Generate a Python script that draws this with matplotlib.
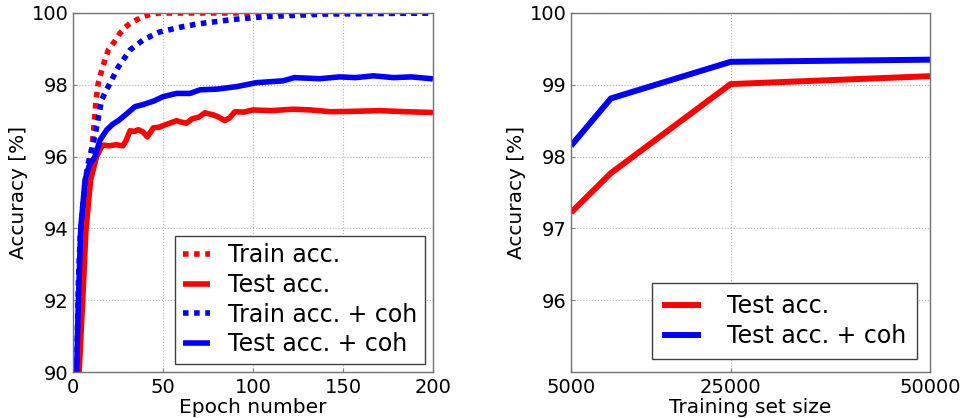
import matplotlib
matplotlib.use("Agg")
import matplotlib.pyplot as plt

# left panel: accuracy vs epoch
train_ep = [2, 3, 5, 7.6, 9.4, 11.3, 12.8, 14, 16.5, 19.6, 23, 26, 29, 31.7, 35, 39, 43, 48, 60, 100, 200]
train_acc = [88.5, 90.0, 92.6, 94.8, 95.7, 96.65, 97.58, 98.04, 98.5, 98.97, 99.2, 99.43, 99.6, 99.71, 99.8,
             99.9, 99.96, 100.0, 100.0, 100.0, 100.0]

test_ep = [2.5, 3.4, 5.4, 7.2, 9.8, 13.1, 15.9, 17, 20, 24, 27.8, 29.5, 31.7, 34, 36.3, 39, 41.3, 44.6, 48,
           52, 57.6, 59.4, 63.1, 66, 70, 73.3, 78, 81, 84.4, 87, 90, 95, 100, 110, 122, 132, 143, 155,
           170.6, 185, 199, 200]
test_acc = [88.5, 90.0, 92.0, 93.96, 95.35, 96.0, 96.28, 96.32, 96.3, 96.33, 96.3, 96.45, 96.72, 96.7,
            96.75, 96.68, 96.55, 96.8, 96.82, 96.9, 97.0, 96.97, 96.93, 97.05, 97.1, 97.22, 97.16, 97.1,
            97.0, 97.08, 97.25, 97.24, 97.3, 97.28, 97.32, 97.3, 97.25, 97.26, 97.28, 97.25, 97.23, 97.22]

train_coh_ep = [1.5, 2, 3, 4, 5.7, 8, 12.5, 15.9, 20.5, 25.2, 31.7, 39, 48, 61, 70, 89, 107, 140, 200]
train_coh_acc = [88.5, 90.0, 92.5, 93.8, 94.79, 95.72, 96.65, 97.58, 98.04, 98.5, 98.97, 99.25, 99.47,
                 99.62, 99.7, 99.82, 99.9, 99.97, 100.0]

test_coh_ep = [1.5, 2, 3, 4.3, 6.7, 9, 12.2, 15, 18.7, 22, 25.2, 30, 34.4, 39, 45, 50, 57.6, 65, 70.6,
               80, 91, 102, 116.7, 123, 137, 148, 157, 166.9, 178, 188, 199, 200]
test_coh_acc = [88.5, 90.0, 92.0, 94.0, 95.35, 95.75, 96.0, 96.46, 96.74, 96.9, 97.0, 97.2, 97.39, 97.45,
                97.55, 97.67, 97.76, 97.76, 97.86, 97.88, 97.95, 98.06, 98.11, 98.2, 98.17, 98.22, 98.2,
                98.25, 98.2, 98.22, 98.17, 98.16]

# right panel: accuracy vs training set size
sizes = [5000, 10000, 25000, 50000]
size_test = [97.22, 97.77, 99.01, 99.12]
size_test_coh = [98.15, 98.81, 99.32, 99.35]

fig = plt.figure(figsize=(9.63, 4.18), dpi=100)
ax1 = fig.add_axes([73 / 963, 1 - 372 / 418, 360 / 963, 359 / 418])
ax2 = fig.add_axes([571 / 963, 1 - 372 / 418, 359 / 963, 359 / 418])

dots = (0, (1, 1))
lw = 4
kw = dict(solid_capstyle='butt')
ax1.plot(train_ep, train_acc, color='r', lw=lw, ls=dots, label='Train acc.')
ax1.plot(test_ep, test_acc, color='r', lw=lw, label='Test acc.', **kw)
ax1.plot(train_coh_ep, train_coh_acc, color='b', lw=lw, ls=dots, label='Train acc. + coh')
ax1.plot(test_coh_ep, test_coh_acc, color='b', lw=lw, label='Test acc. + coh', **kw)
ax1.set_xlim(0, 200)
ax1.set_ylim(90, 100)
ax1.set_xticks([0, 50, 100, 150, 200])
ax1.set_yticks([90, 92, 94, 96, 98, 100])
ax1.set_xlabel('Epoch number', fontsize=14.5, labelpad=1)
ax1.set_ylabel('Accuracy [%]', fontsize=14.5, labelpad=3)
ax1.legend(loc='lower right', bbox_to_anchor=(0.978, 0.022), borderaxespad=0, fontsize=17,
           handlelength=1.15, handletextpad=0.75, labelspacing=0.24, borderpad=0.33,
           fancybox=False, framealpha=1, edgecolor='0.25')

ax2.plot(sizes, size_test, color='r', lw=4.3, label='Test acc.', **kw)
ax2.plot(sizes, size_test_coh, color='b', lw=4.3, label='Test acc. + coh', **kw)
ax2.set_xlim(5000, 50000)
ax2.set_ylim(95, 100)
ax2.set_xticks([5000, 25000, 50000])
ax2.set_yticks([96, 97, 98, 99, 100])
ax2.set_xlabel('Training set size', fontsize=14.5, labelpad=1)
ax2.set_ylabel('Accuracy [%]', fontsize=14.5, labelpad=3)
ax2.legend(loc='lower right', bbox_to_anchor=(0.964, 0.036), borderaxespad=0, fontsize=17,
           handlelength=1.65, handletextpad=1.1, labelspacing=0.28, borderpad=0.45,
           fancybox=False, framealpha=1, edgecolor='0.25')

for ax in (ax1, ax2):
    ax.grid(True, color='0.7', ls=':', lw=0.8)
    ax.tick_params(direction='in', length=3, color='0.5', labelsize=14, pad=3)
    ax.tick_params(axis='x', pad=4)
    for sp in ax.spines.values():
        sp.set_color('0.45')
        sp.set_linewidth(1)

fig.savefig('out.png', dpi=100)
